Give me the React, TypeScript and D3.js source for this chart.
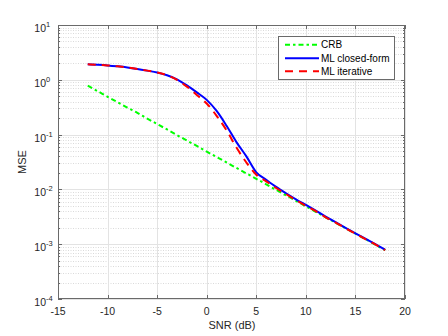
import React from "react";
import * as d3 from "d3";

const snr = [-12, -11, -10, -9, -8, -7, -6, -5, -4, -3, -2, -1, 0, 1, 2, 3, 4, 5, 6, 7, 8, 9, 10, 11, 12, 13, 14, 15, 16, 17, 18];
const crb = [0.78, 0.62, 0.49, 0.39, 0.31, 0.25, 0.196, 0.156, 0.124, 0.098, 0.078, 0.062, 0.049, 0.039, 0.031, 0.0246, 0.0196, 0.0156, 0.0124, 0.0098, 0.0078, 0.0062, 0.0049, 0.0039, 0.0031, 0.00246, 0.00196, 0.00156, 0.00124, 0.00098, 0.00078];
const mlClosed = [1.92, 1.88, 1.83, 1.76, 1.68, 1.58, 1.47, 1.36, 1.21, 1.02, 0.79, 0.59, 0.43, 0.27, 0.145, 0.073, 0.04, 0.0205, 0.015, 0.0111, 0.0085, 0.0066, 0.0052, 0.0041, 0.0032, 0.00252, 0.00199, 0.00158, 0.00126, 0.001, 0.00079];
const mlIter = [1.92, 1.88, 1.83, 1.76, 1.68, 1.58, 1.47, 1.36, 1.21, 1.0, 0.75, 0.53, 0.37, 0.22, 0.12, 0.058, 0.031, 0.0185, 0.014, 0.0106, 0.0082, 0.0064, 0.005, 0.004, 0.0031, 0.00248, 0.00196, 0.00156, 0.00124, 0.00099, 0.00078];
const xTicks = [-15, -10, -5, 0, 5, 10, 15, 20];
const yExponents = [-4, -3, -2, -1, 0, 1];
const legendLabels = ["CRB", "ML closed-form", "ML iterative"];

const W = 448, H = 336;
const L = 58, R = 405, T = 25, B = 299;
const FONT = "'Liberation Sans', Arial, Helvetica, sans-serif";
const AX = "#6a6a6a";

export default function App() {
  const x = d3.scaleLinear().domain([-15, 20]).range([L, R]);
  const y = d3.scaleLog().domain([1e-4, 10]).range([B, T]);

  const minorVals: number[] = [];
  for (let e = -4; e < 1; e++) for (let k = 2; k <= 9; k++) minorVals.push(k * Math.pow(10, e));

  const line = d3.line<number>().x((_, i) => x(snr[i])).y((v) => y(v)).curve(d3.curveMonotoneX);

  const series = [
    { data: crb, color: "#00ff00", dash: "5,3,2.5,3" },
    { data: mlClosed, color: "#0000ff", dash: "" },
    { data: mlIter, color: "#ff0000", dash: "8,6" },
  ];

  const lgX = 278.5, lgY = 36.5, lgW = 116, lgH = 43;
  const rowY = [44.7, 58.3, 71.3];

  return (
    <svg width={W} height={H} style={{ position: "absolute", left: 0, top: 0, background: "#fff" }} fontFamily={FONT}>
      <rect x={0} y={0} width={W} height={H} fill="#fff" />
      {minorVals.map((v, i) => (
        <line key={"mg" + i} x1={L} x2={R} y1={Math.round(y(v)) + 0.5} y2={Math.round(y(v)) + 0.5} stroke="#dadada" strokeWidth={1} strokeDasharray="1,1.5" />
      ))}
      {yExponents.map((e) => (
        <line key={"gy" + e} x1={L} x2={R} y1={Math.round(y(Math.pow(10, e))) + 0.5} y2={Math.round(y(Math.pow(10, e))) + 0.5} stroke="#e3e3e3" strokeWidth={1} />
      ))}
      {xTicks.map((t) => (
        <line key={"gx" + t} x1={Math.round(x(t)) + 0.5} x2={Math.round(x(t)) + 0.5} y1={T} y2={B} stroke="#e3e3e3" strokeWidth={1} />
      ))}
      {series.map((s, i) => (
        <path key={"s" + i} d={line(s.data) || ""} fill="none" stroke={s.color} strokeWidth={2} strokeDasharray={s.dash || undefined} />
      ))}
      <rect x={L + 0.5} y={T + 0.5} width={R - L - 1} height={B - T - 1} fill="none" stroke={AX} strokeWidth={1} />
      {yExponents.map((e) => {
        const yy = Math.round(y(Math.pow(10, e))) + 0.5;
        return (
          <g key={"yt" + e}>
            <line x1={L} x2={L + 4} y1={yy} y2={yy} stroke={AX} />
            <line x1={R - 4} x2={R} y1={yy} y2={yy} stroke={AX} />
          </g>
        );
      })}
      {minorVals.map((v, i) => {
        const yy = Math.round(y(v)) + 0.5;
        return (
          <g key={"ymt" + i}>
            <line x1={L} x2={L + 2} y1={yy} y2={yy} stroke={AX} />
            <line x1={R - 2} x2={R} y1={yy} y2={yy} stroke={AX} />
          </g>
        );
      })}
      {xTicks.map((t) => {
        const xx = Math.round(x(t)) + 0.5;
        return (
          <g key={"xt" + t}>
            <line x1={xx} x2={xx} y1={B} y2={B - 4} stroke={AX} />
            <line x1={xx} x2={xx} y1={T} y2={T + 4} stroke={AX} />
            <text x={x(t)} y={315} fontSize={10.5} textAnchor="middle" fill="#262626">{t}</text>
          </g>
        );
      })}
      {yExponents.map((e) => {
        const yy = y(Math.pow(10, e));
        const expStr = String(e);
        const expW = expStr.length === 2 ? 7.5 : 4;
        return (
          <g key={"yl" + e}>
            <text x={50 - expW + (e < 0 ? 3.5 : 0)} y={yy + 7} fontSize={10.5} textAnchor="end" fill="#262626">10</text>
            <text x={50 - expW + (e < 0 ? 3.5 : 0)} y={yy + 2} fontSize={7.5} textAnchor="start" fill="#262626">{expStr}</text>
          </g>
        );
      })}
      <text x={232} y={329} fontSize={11} textAnchor="middle" fill="#262626">SNR (dB)</text>
      <text transform={`translate(26,162) rotate(-90)`} fontSize={11} textAnchor="middle" fill="#262626">MSE</text>
      <rect x={lgX} y={lgY} width={lgW} height={lgH} fill="#fff" stroke={AX} strokeWidth={1} />
      {series.map((s, i) => (
        <g key={"lg" + i}>
          <line x1={285} x2={319} y1={rowY[i]} y2={rowY[i]} stroke={s.color} strokeWidth={2} strokeDasharray={s.dash || undefined} />
          <text x={321} y={rowY[i] + 3.6} fontSize={10} fill="#000">{legendLabels[i]}</text>
        </g>
      ))}
    </svg>
  );
}
